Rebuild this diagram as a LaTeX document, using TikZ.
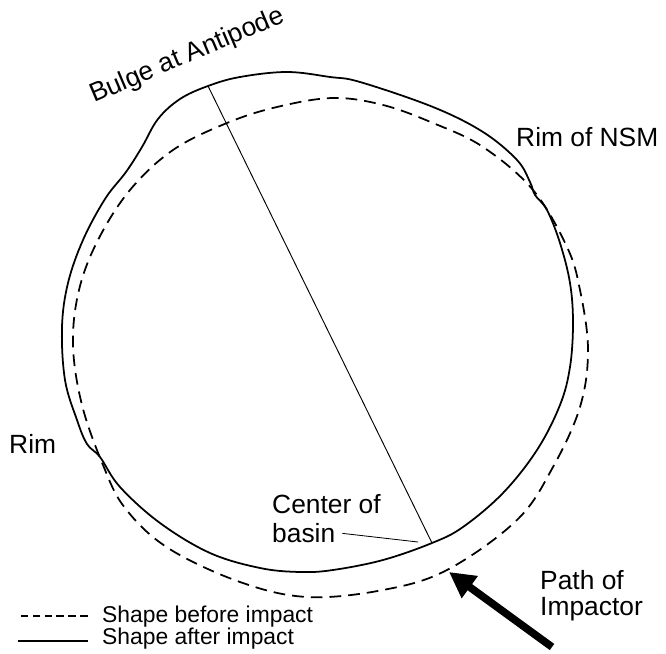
\documentclass[tikz,border=0pt]{standalone}
\usepackage{fontspec}
\setmainfont{Liberation Sans}
\usepackage{tikz}
\usetikzlibrary{arrows.meta}

\begin{document}
\begin{tikzpicture}[x=.03cm,y=-.03cm,
  lbl/.style={inner sep=0pt,anchor=base west,font=\fontsize{22.5}{27}\selectfont},
  leg/.style={inner sep=0pt,anchor=base west,font=\fontsize{19.5}{23}\selectfont},
  afterline/.style={line width=1.5pt},
  beforeline/.style={line width=1.5pt,dash pattern=on 10pt off 6pt}]
\useasboundingbox (0,0) rectangle (666,654);
% shape before impact
\draw[beforeline] plot[smooth cycle,tension=.6] coordinates {(333,98) (383,105) (433,123) (483,147) (533,190) (567,247) (580,290) (588,350) (580,407) (553,467) (517,520) (447,570) (383,590) (307,597) (240,582) (168,548) (125,508) (103,465) (82,405) (73,345) (79,290) (98,240) (130,190) (173,150) (227,123) (277,107)};
% shape after impact
\draw[afterline] plot[smooth cycle,tension=.6] coordinates {(208,86) (240,77) (287,72) (330,77) (360,82) (433,107) (483,132) (517,160) (530,182) (535,195) (547,210) (560,243) (570,283) (573,323) (570,367) (560,405) (537,450) (503,493) (463,527) (432,543) (383,560) (333,570) (300,572) (260,568) (210,553) (160,523) (120,487) (100,457) (87,444) (77,420) (65,380) (62,327) (68,283) (83,240) (105,199) (126,172) (142,147) (158,119) (180,99)};
\coordinate (bulge) at (208,86);
\coordinate (ctr) at (432,543);
\draw[line width=.8pt] (bulge)--(ctr);
% labels
\node[lbl,rotate=23] (bulgelbl) at (94,103) {Bulge at Antipode};
\node[lbl] (nsm) at (516,147) {Rim of NSM};
\node[lbl] (rim) at (9,454) {Rim};
\node[lbl] (ctrlbl) at (272,513) {Center of};
\node[lbl] (basin) at (272,542) {basin};
\coordinate (ptr) at (418,542);
\draw[line width=.7pt,shorten <=6pt] (basin.east)--(ptr);
\node[lbl] (pathlbl) at (540,589) {Path of};
\node[lbl] (impactor) at (540,615) {Impactor};
% impactor arrow
\coordinate (tail) at (552,647);
\coordinate (tip) at (449,572);
\draw[line width=6.5pt,-{Triangle[length=22pt,width=22pt]}] (tail)--(tip);
% legend
\node[leg] (lbefore) at (102,622) {Shape before impact};
\node[leg] (lafter) at (102,644) {Shape after impact};
\draw[line width=1.2pt,dash pattern=on 6.5pt off 3.7pt] (lbefore.west) ++(-14,0) -- ++(-70,0);
\draw[line width=1.2pt] (lafter.west) ++(-14,3) -- ++(-70,0);
\end{tikzpicture}
\end{document}
